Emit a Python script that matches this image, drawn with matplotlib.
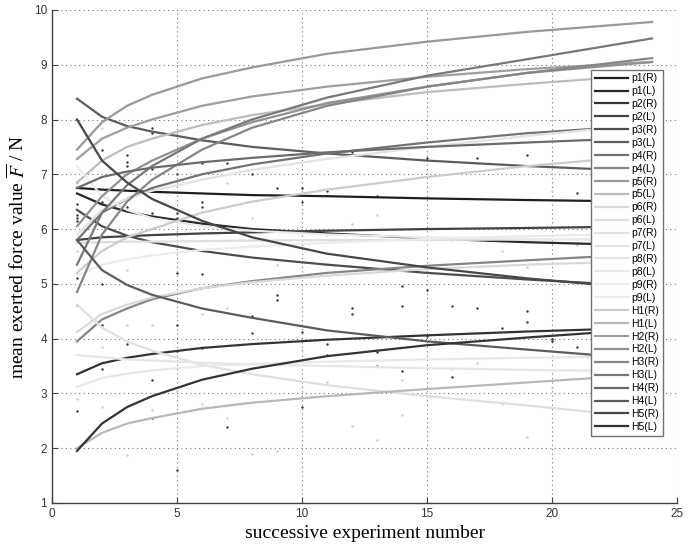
import matplotlib
matplotlib.use("Agg")
import matplotlib.pyplot as plt

plt.rcParams['mathtext.fontset'] = 'stix'

x_pts = [1, 2, 3, 4, 6, 8, 11, 15, 19, 24]

labels = ['p1(R)', 'p1(L)', 'p2(R)', 'p2(L)', 'p3(R)', 'p3(L)', 'p4(R)', 'p4(L)',
          'p5(R)', 'p5(L)', 'p6(R)', 'p6(L)', 'p7(R)', 'p7(L)', 'p8(R)', 'p8(L)',
          'p9(R)', 'p9(L)', 'H1(R)', 'H1(L)', 'H2(R)', 'H2(L)', 'H3(R)', 'H3(L)',
          'H4(R)', 'H4(L)', 'H5(R)', 'H5(L)']

p1R = [6.75, 6.72, 6.70, 6.68, 6.65, 6.62, 6.60, 6.56, 6.53, 6.50]
p1L = [6.65, 6.45, 6.32, 6.23, 6.10, 6.00, 5.92, 5.83, 5.76, 5.70]
p2R = [3.35, 3.55, 3.65, 3.72, 3.83, 3.90, 3.98, 4.06, 4.13, 4.20]
p2L = [5.80, 5.85, 5.87, 5.89, 5.92, 5.94, 5.97, 6.00, 6.02, 6.05]
p3R = [6.35, 6.05, 5.88, 5.76, 5.60, 5.48, 5.35, 5.20, 5.08, 4.95]
p3L = [8.38, 8.05, 7.88, 7.78, 7.62, 7.50, 7.38, 7.25, 7.15, 7.05]
p4R = [5.80, 6.30, 6.55, 6.75, 7.00, 7.18, 7.38, 7.58, 7.75, 7.90]
p4L = [3.95, 4.35, 4.55, 4.72, 4.92, 5.05, 5.20, 5.33, 5.43, 5.55]
p5R = [7.45, 7.95, 8.25, 8.45, 8.75, 8.95, 9.20, 9.42, 9.60, 9.78]
p5L = [6.85, 7.25, 7.50, 7.65, 7.90, 8.08, 8.28, 8.50, 8.65, 8.82]
p6R = [4.12, 4.45, 4.62, 4.75, 4.92, 5.03, 5.15, 5.27, 5.35, 5.42]
p6L = [5.75, 5.76, 5.77, 5.77, 5.78, 5.79, 5.80, 5.80, 5.81, 5.82]
p7R = [4.62, 4.20, 3.95, 3.78, 3.52, 3.35, 3.15, 2.95, 2.78, 2.55]
p7L = [5.90, 6.35, 6.55, 6.70, 6.90, 7.08, 7.28, 7.50, 7.70, 7.92]
p8R = [3.70, 3.66, 3.62, 3.60, 3.56, 3.53, 3.50, 3.46, 3.43, 3.40]
p8L = [3.12, 3.28, 3.36, 3.42, 3.50, 3.54, 3.58, 3.62, 3.65, 3.68]
p9R = [7.15, 6.60, 6.35, 6.20, 6.05, 5.97, 5.90, 5.85, 5.82, 5.80]
p9L = [5.15, 5.35, 5.45, 5.52, 5.62, 5.68, 5.75, 5.82, 5.87, 5.92]
H1R = [5.20, 5.60, 5.85, 6.00, 6.30, 6.50, 6.72, 6.95, 7.15, 7.35]
H1L = [2.00, 2.28, 2.45, 2.55, 2.72, 2.83, 2.95, 3.08, 3.20, 3.35]
H2R = [7.28, 7.65, 7.85, 8.00, 8.25, 8.42, 8.60, 8.78, 8.92, 9.05]
H2L = [6.05, 6.60, 7.00, 7.25, 7.65, 7.95, 8.30, 8.60, 8.85, 9.05]
H3R = [4.85, 5.90, 6.50, 6.90, 7.45, 7.85, 8.25, 8.60, 8.85, 9.12]
H3L = [5.35, 6.30, 6.80, 7.15, 7.65, 8.00, 8.40, 8.80, 9.10, 9.48]
H4R = [6.75, 6.95, 7.05, 7.12, 7.22, 7.30, 7.40, 7.50, 7.58, 7.67]
H4L = [5.80, 5.25, 4.98, 4.80, 4.55, 4.38, 4.15, 3.95, 3.80, 3.62]
H5R = [8.00, 7.25, 6.85, 6.55, 6.15, 5.85, 5.55, 5.30, 5.10, 4.90]
H5L = [1.95, 2.45, 2.75, 2.95, 3.25, 3.45, 3.68, 3.88, 4.02, 4.18]

curves = [p1R, p1L, p2R, p2L, p3R, p3L, p4R, p4L, p5R, p5L, p6R, p6L, p7R, p7L,
          p8R, p8L, p9R, p9L, H1R, H1L, H2R, H2L, H3R, H3L, H4R, H4L, H5R, H5L]

# measured means (dots)
dark_x = [1, 1, 1, 1, 1, 1, 1, 2, 2, 2, 2, 2, 3, 3, 3, 3, 3, 4, 4, 4, 4, 4, 4, 4,
          5, 5, 5, 5, 5, 5, 5, 6, 6, 6, 6, 6, 7, 7, 8, 8, 8, 9, 9, 9, 10, 10, 10, 10,
          11, 11, 11, 12, 12, 12, 13, 13, 13, 14, 14, 14, 15, 15, 15, 16, 16, 17, 17,
          18, 19, 19, 19, 20, 20, 21, 21]
dark_y = [6.25, 6.20, 6.15, 6.45, 5.10, 4.62, 2.68, 7.45, 6.50, 5.00, 4.25, 3.45, 7.35,
          7.22, 7.15, 6.40, 3.90, 7.85, 7.75, 7.10, 6.75, 6.30, 3.25, 2.55, 7.00, 6.30,
          6.20, 5.20, 4.25, 3.78, 1.60, 7.20, 6.50, 6.40, 5.18, 3.82, 7.20, 2.38, 7.00,
          4.42, 4.10, 6.75, 4.80, 4.70, 6.75, 6.50, 4.12, 2.75, 6.70, 3.90, 3.70, 7.40,
          4.55, 4.45, 6.60, 3.50, 3.75, 4.96, 4.60, 3.40, 7.30, 4.89, 4.05, 4.60, 3.30,
          7.30, 4.55, 4.20, 7.35, 4.50, 4.30, 4.00, 3.95, 6.65, 3.85]

light_x = [1, 1, 1, 1, 2, 2, 2, 2, 3, 3, 3, 3, 4, 4, 4, 5, 5, 6, 6, 6, 7, 7, 7, 8, 8,
           9, 9, 10, 10, 11, 11, 12, 12, 13, 13, 14, 14, 15, 15, 16, 16, 17, 17, 18,
           18, 19, 19, 20, 20, 21]
light_y = [6.85, 5.60, 2.90, 2.00, 7.85, 6.60, 3.85, 2.75, 7.00, 5.25, 4.25, 1.88, 6.25,
           4.25, 2.70, 5.55, 3.05, 6.10, 4.45, 2.80, 6.85, 4.55, 2.55, 6.20, 1.90, 5.35,
           1.95, 6.30, 3.80, 5.90, 3.20, 6.10, 2.40, 6.25, 2.15, 3.25, 2.60, 6.25, 2.95,
           5.80, 3.45, 7.20, 3.55, 5.60, 2.80, 5.30, 2.20, 6.70, 3.10, 5.70]

# grey level per series: dark -> light -> dark, as in the legend
greys = [0.12, 0.16, 0.20, 0.26, 0.30, 0.36, 0.45, 0.52, 0.60, 0.74, 0.85, 0.87,
         0.88, 0.89, 0.90, 0.91, 0.92, 0.92, 0.80, 0.72, 0.62, 0.57, 0.52, 0.47,
         0.42, 0.36, 0.28, 0.20]

fig = plt.figure(figsize=(7, 5.46), dpi=100)
ax = fig.add_axes([0.0743, 0.0788, 0.893, 0.903])

ax.scatter(light_x, light_y, s=3, color='0.8', linewidths=0, zorder=2)
ax.scatter(dark_x, dark_y, s=3, color='0.2', linewidths=0, zorder=2)

for vals, lab, g in zip(curves, labels, greys):
    ax.plot(x_pts, vals, color=str(g), lw=1.6, label=lab, zorder=3)

ax.set_xlim(0, 25)
ax.set_ylim(1, 10)
ax.set_xticks(range(0, 26, 5))
ax.set_yticks(range(1, 11))
ax.grid(True, linestyle=(0, (1, 3)), color='0.45', lw=0.8)
ax.set_axisbelow(True)
for s in ['top', 'right']:
    ax.spines[s].set_visible(False)
for s in ['left', 'bottom']:
    ax.spines[s].set_color('0.25')
    ax.spines[s].set_linewidth(1.0)
ax.tick_params(direction='in', length=4, width=0.8, color='0.25',
               labelsize=8.5, labelcolor='0.2')
for t in ax.get_xticklabels() + ax.get_yticklabels():
    t.set_family('Liberation Sans')

ax.set_xlabel('successive experiment number', family='Liberation Serif', fontsize=14)
ax.set_ylabel(r'mean exerted force value $\overline{F}$ / N', family='Liberation Serif',
              fontsize=14)

leg = ax.legend(loc='upper right', bbox_to_anchor=(0.977, 0.879), fontsize=7.5,
                labelspacing=0.28, handlelength=3.2, handletextpad=0.3,
                borderpad=0.35, borderaxespad=0, fancybox=False, framealpha=1,
                edgecolor='0.45', prop={'family': 'Liberation Sans', 'size': 7.5})
leg.get_frame().set_linewidth(1.0)

fig.savefig('out.png', dpi=100)
